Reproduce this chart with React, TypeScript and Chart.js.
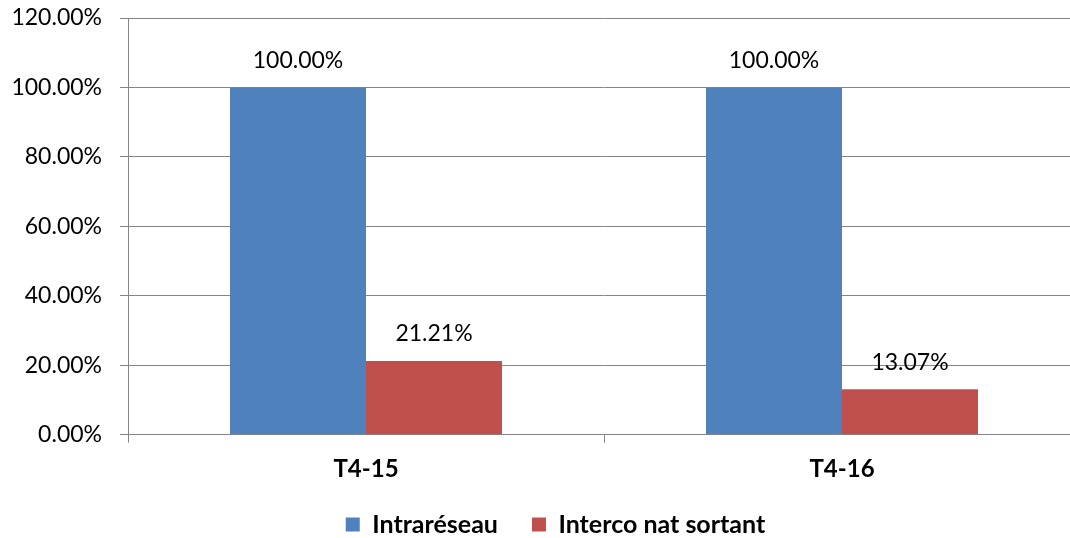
import React, { useEffect, useRef } from "react";
import { Chart, registerables } from "chart.js";

Chart.register(...registerables);

const categories = ["T4-15", "T4-16"];
const seriesNames = ["Intraréseau", "Interco nat sortant"];
const intrareseau = [100.0, 100.0];
const intercoNatSortant = [21.21, 13.07];
const yTicks = { min: 0, max: 120, step: 20 };

const FONT = "Lato";
const GRID = "#868686";
const CANVAS_W = 1120;
const CANVAS_H = 547;

const valueLabels = {
  id: "valueLabels",
  afterDatasetsDraw(chart: any) {
    const ctx = chart.ctx;
    ctx.save();
    ctx.font = `23px ${FONT}`;
    ctx.fillStyle = "#000";
    ctx.textAlign = "center";
    ctx.textBaseline = "middle";
    chart.data.datasets.forEach((ds: any, di: number) => {
      const meta = chart.getDatasetMeta(di);
      meta.data.forEach((bar: any, i: number) => {
        const v = ds.data[i] as number;
        ctx.fillText(v.toFixed(2) + "%", bar.x, bar.y - 27);
      });
    });
    ctx.restore();
  },
};

export default function App() {
  const ref = useRef<HTMLCanvasElement>(null);
  useEffect(() => {
    if (!ref.current) return;
    const chart = new Chart(ref.current, {
      type: "bar",
      data: {
        labels: categories,
        datasets: [
          {
            label: seriesNames[0],
            data: intrareseau,
            backgroundColor: "#4F81BD",
            categoryPercentage: 272 / 476,
            barPercentage: 1,
          },
          {
            label: seriesNames[1],
            data: intercoNatSortant,
            backgroundColor: "#C0504D",
            categoryPercentage: 272 / 476,
            barPercentage: 1,
          },
        ],
      },
      options: {
        responsive: false,
        animation: false,
        devicePixelRatio: 1,
        layout: { padding: { top: 18, left: 0, right: CANVAS_W - 1111, bottom: 0 } },
        plugins: {
          tooltip: { enabled: false },
          legend: {
            position: "bottom",
            labels: {
              boxWidth: 14,
              boxHeight: 14,
              padding: 34,
              color: "#000",
              font: { family: FONT, size: 25, weight: "bold" },
            },
          },
        },
        scales: {
          x: {
            grid: {
              offset: true,
              drawOnChartArea: false,
              drawTicks: true,
              tickLength: 8,
              color: GRID,
              lineWidth: 1,
            },
            border: { display: true, color: GRID, width: 1 },
            ticks: {
              color: "#000",
              padding: 12,
              font: { family: FONT, size: 24, weight: "bold" },
            },
            afterFit(scale: any) {
              scale.height = CANVAS_H - (25 + 34 + 10) - 434.7;
            },
          },
          y: {
            min: yTicks.min,
            max: yTicks.max,
            grid: { color: GRID, lineWidth: 1, tickLength: 8 },
            border: { display: true, color: GRID, width: 1 },
            ticks: {
              stepSize: yTicks.step,
              color: "#000",
              padding: 18,
              font: { family: FONT, size: 23 },
              callback: (v: any) => Number(v).toFixed(2) + "%",
            },
            afterFit(scale: any) {
              scale.width = 128;
              scale.paddingTop = 0;
              scale.paddingBottom = 0;
            },
          },
          ySpacer: {
            position: "right",
            min: 0,
            max: 1,
            grid: { display: false, drawTicks: false },
            border: { display: false },
            ticks: { display: false },
            afterFit(scale: any) {
              scale.width = 31;
            },
          },
        },
      },
      plugins: [valueLabels],
    });
    return () => chart.destroy();
  }, []);
  return (
    <div
      style={{
        position: "absolute",
        left: 0,
        top: 0,
        width: 1070,
        height: 538,
        overflow: "hidden",
        background: "#fff",
      }}
    >
      <canvas
        ref={ref}
        width={CANVAS_W}
        height={CANVAS_H}
        style={{ width: CANVAS_W, height: CANVAS_H, display: "block" }}
      />
    </div>
  );
}
